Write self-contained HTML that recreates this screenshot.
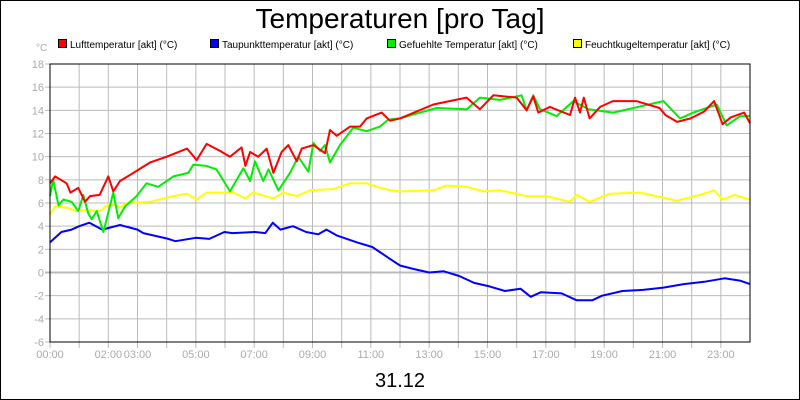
<!DOCTYPE html>
<html><head><meta charset="utf-8"><style>
html,body{margin:0;padding:0;background:#fff}
svg{display:block;font-family:"Liberation Sans",sans-serif}
</style></head><body>
<svg id="chart" width="800" height="400" viewBox="0 0 800 400" xmlns="http://www.w3.org/2000/svg">
<rect x="0.5" y="0.5" width="799" height="399" fill="#fff" stroke="#000"/>
<text x="400" y="28" text-anchor="middle" font-size="28">Temperaturen [pro Tag]</text>
<text x="400" y="387" text-anchor="middle" font-size="20">31.12</text>
<text x="36" y="51" font-size="10" fill="#aaa">°C</text>
<g id="legend" font-size="10"></g>
<g id="grid"></g>
<g id="series"></g>
<rect x="50" y="64" width="700" height="278" fill="none" stroke="#000" stroke-width="1"/>
</svg>
<script>
const yTicks=[18,16,14,12,10,8,6,4,2,0,-2,-4,-6];
const xTickLabels=["00:00","02:00","03:00","05:00","07:00","09:00","11:00","13:00","15:00","17:00","19:00","21:00","23:00"];
const xTickHours=[0,2,3,5,7,9,11,13,15,17,19,21,23];
const seriesNames=["Lufttemperatur [akt] (°C)","Taupunkttemperatur [akt] (°C)","Gefuehlte Temperatur [akt] (°C)","Feuchtkugeltemperatur [akt] (°C)"];
const seriesColors=["#ff0000","#0000ff","#00ee00","#ffff00"];
const luftHours=[0,0.17,0.57,0.7,0.97,1.2,1.37,1.7,2.0,2.17,2.4,2.86,3.43,4.0,4.7,5.03,5.37,5.83,6.17,6.57,6.7,6.86,7.14,7.43,7.66,7.94,8.17,8.46,8.63,9.03,9.43,9.6,9.83,10.29,10.63,10.86,11.37,11.66,12.0,13.14,14.28,14.74,15.2,16.0,16.34,16.57,16.74,17.14,17.83,18.0,18.17,18.3,18.5,18.86,19.3,20.1,20.9,21.1,21.5,21.97,22.43,22.77,23.06,23.34,23.8,24];
const luftValues=[7.7,8.3,7.7,6.9,7.3,6.1,6.6,6.7,8.3,7.0,7.9,8.6,9.5,10.0,10.7,9.7,11.1,10.5,10.0,10.8,9.2,10.4,10.0,10.7,8.6,10.4,11.0,9.6,10.7,11.0,10.3,12.3,11.8,12.6,12.6,13.3,13.8,13.1,13.3,14.5,15.1,14.1,15.3,15.1,14.0,15.2,13.8,14.3,13.6,15.1,13.8,15.1,13.3,14.3,14.8,14.8,14.2,13.6,13.0,13.3,13.9,14.8,12.8,13.4,13.8,12.9];
const tauHours=[0,0.39,0.74,1.0,1.35,1.79,2.4,3.0,3.2,4.06,4.3,5.0,5.46,5.98,6.25,7.03,7.38,7.64,7.9,8.33,8.78,9.2,9.48,9.83,10.53,11.05,11.58,12.0,12.47,13.0,13.5,14.03,14.54,15.07,15.6,16.13,16.48,16.83,17.54,18.06,18.59,18.93,19.63,20.33,21.03,21.73,22.43,23.13,23.65,24];
const tauValues=[2.6,3.5,3.7,4.0,4.3,3.7,4.1,3.7,3.4,2.9,2.7,3.0,2.9,3.5,3.4,3.5,3.4,4.3,3.7,4.0,3.5,3.3,3.7,3.2,2.6,2.2,1.3,0.6,0.3,0.0,0.1,-0.3,-0.9,-1.2,-1.6,-1.4,-2.1,-1.7,-1.8,-2.4,-2.4,-2.0,-1.6,-1.5,-1.3,-1.0,-0.8,-0.5,-0.7,-1.0];
const gefHours=[0,0.11,0.29,0.46,0.74,0.97,1.14,1.31,1.43,1.6,1.83,2.17,2.34,2.57,2.97,3.31,3.71,4.23,4.74,4.91,5.37,5.71,6.17,6.63,6.86,7.03,7.31,7.49,7.83,8.23,8.51,8.86,9.03,9.26,9.43,9.6,9.94,10.4,10.86,11.31,11.6,12.0,12.69,13.26,14.29,14.74,15.43,16.17,16.34,16.57,16.8,17.37,17.94,18.46,19.31,20.0,21.03,21.6,22.06,22.86,23.2,23.66,24];
const gefValues=[6.6,8.0,5.8,6.3,6.1,5.3,6.7,5.1,4.6,5.3,3.5,6.9,4.7,5.7,6.6,7.7,7.4,8.3,8.6,9.3,9.2,8.9,7.0,9.0,7.9,9.6,7.9,8.9,7.1,8.6,10.0,8.7,11.2,10.5,11.0,9.5,11.0,12.5,12.2,12.6,13.2,13.3,13.8,14.2,14.1,15.1,14.9,15.3,14.0,15.3,14.1,13.5,14.8,14.1,13.8,14.2,14.8,13.3,13.8,14.5,12.7,13.5,13.5];
const feuHours=[0,0.17,0.57,0.91,1.26,1.71,2.06,2.4,2.63,3.43,4.23,4.69,5.03,5.37,6.29,6.69,6.97,7.66,8.0,8.46,8.91,9.71,10.29,10.86,11.2,11.66,12.0,13.14,13.6,14.29,14.86,15.43,16.34,17.03,17.83,18.06,18.5,19.2,20.23,21.14,21.49,22.29,22.77,23.06,23.46,24];
const feuValues=[5.0,5.7,5.6,5.3,5.4,5.3,6.0,5.6,6.0,6.1,6.6,6.8,6.3,6.9,6.9,6.4,6.9,6.4,6.9,6.6,7.1,7.2,7.7,7.7,7.4,7.1,7.0,7.1,7.5,7.4,7.0,7.1,6.6,6.6,6.1,6.7,6.1,6.8,6.9,6.4,6.2,6.7,7.1,6.3,6.7,6.3];

const X0=50,X1=750,Y0=64,Y1=342,YMAX=18,YMIN=-6;
function xs(h){return X0+(h/24)*(X1-X0);}
function ys(v){return Y0+(YMAX-v)/(YMAX-YMIN)*(Y1-Y0);}
const NS="http://www.w3.org/2000/svg";
function mk(tag,attrs,parent){const e=document.createElementNS(NS,tag);for(const k in attrs)e.setAttribute(k,attrs[k]);parent.appendChild(e);return e;}
const grid=document.getElementById('grid');
for(let h=1;h<24;h++){
  const l=mk('line',{x1:xs(h),x2:xs(h),y1:Y0,y2:Y1+6,stroke:'#bbb','stroke-width':1},grid);
  
  
}
mk('line',{x1:X0,x2:X0,y1:Y1,y2:Y1+6,stroke:'#bbb'},grid);
yTicks.forEach(v=>{
  const l=mk('line',{x1:X0-5,x2:X1,y1:ys(v),y2:ys(v),stroke:'#bbb','stroke-width':v===0?2:1},grid);
  
  
  const t=mk('text',{x:X0-6,y:ys(v)+4,'text-anchor':'end','font-size':11,fill:'#aaa'},grid);
  
  
  t.textContent=v;
});
xTickLabels.forEach((s,i)=>{
  const t=mk('text',{x:xs(xTickHours[i]),y:358,'text-anchor':'middle','font-size':11,fill:'#aaa'},grid);
  
  
  t.textContent=s;
});
const ser=document.getElementById('series');
const data=[[luftHours,luftValues],[tauHours,tauValues],[gefHours,gefValues],[feuHours,feuValues]];
const order=[3,1,2,0];
const names=['feucht-line','taupunkt-line','gefuehlt-line','luft-line'];
order.forEach((i,k)=>{
  const [hs,vs]=data[i];
  const pts=hs.map((h,j)=>xs(h).toFixed(1)+','+ys(vs[j]).toFixed(1)).join(' ');
  const p=mk('polyline',{points:pts,fill:'none',stroke:seriesColors[i],'stroke-width':2,'stroke-linejoin':'round'},ser);
  
  
});
const leg=document.getElementById('legend');
const legX=[58,210,387,573];
seriesNames.forEach((n,i)=>{
  const r=mk('rect',{x:legX[i]+0.5,y:39.5,width:8,height:8,fill:seriesColors[i],stroke:'#000'},leg);
  
  
  const t=mk('text',{x:legX[i]+12,y:48,'font-size':10,fill:'#000'},leg);
  
  
  t.textContent=n;
});
</script>
</body></html>
